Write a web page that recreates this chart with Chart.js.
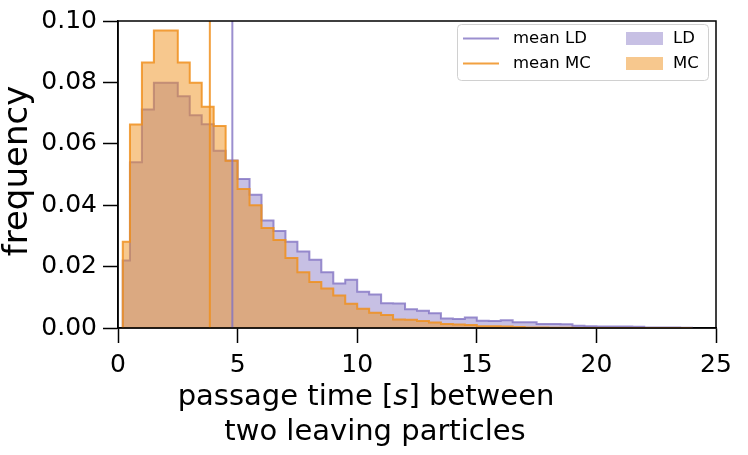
<!DOCTYPE html>
<html>
<head>
<meta charset="utf-8">
<script src="https://cdn.jsdelivr.net/npm/chart.js@4.4.1/dist/chart.umd.min.js"></script>
<style>
  html, body { margin: 0; padding: 0; background: #fff; }
  canvas { display: block; }
</style>
</head>
<body>
<canvas id="histChart" width="748" height="455"></canvas>
<script>
// bin edges of the histogram [s]
const binEdges = [0.2, 0.5, 1.0, 1.5, 2.0, 2.5, 3.0, 3.5, 4.0, 4.5, 5.0, 5.5, 6.0, 6.5, 7.0, 7.5,
  8.0, 8.5, 9.0, 9.5, 10.0, 10.5, 11.0, 11.5, 12.0, 12.5, 13.0, 13.5, 14.0, 14.5, 15.0, 15.5,
  16.0, 16.5, 17.0, 17.5, 18.0, 18.5, 19.0, 19.5, 20.0, 20.5, 21.0, 21.5, 22.0, 22.5, 23.0, 23.5, 24.0];

// frequency per bin
const ldFreq = [0.0220, 0.0540, 0.0712, 0.0799, 0.0799, 0.0755, 0.0693, 0.0664, 0.0577, 0.0546,
  0.0485, 0.0434, 0.0350, 0.0316, 0.0281, 0.0249, 0.0222, 0.0182, 0.0145, 0.0157,
  0.0118, 0.0109, 0.0081, 0.0080, 0.0061, 0.0056, 0.0048, 0.0031, 0.0029, 0.0034,
  0.0024, 0.0023, 0.0025, 0.0019, 0.0019, 0.0013, 0.0013, 0.0012, 0.0007, 0.0006,
  0.0005, 0.0005, 0.0005, 0.0004, 0.0002, 0.0002, 0.0002, 0.0001];
const mcFreq = [0.0281, 0.0663, 0.0865, 0.0969, 0.0969, 0.0865, 0.0799, 0.0721, 0.0658, 0.0545,
  0.0453, 0.0400, 0.0326, 0.0287, 0.0228, 0.0182, 0.0150, 0.0129, 0.0106, 0.0079,
  0.0063, 0.0050, 0.0042, 0.0028, 0.0027, 0.0023, 0.0018, 0.0013, 0.0011, 0.0010,
  0.0006, 0.0006, 0.0005, 0.0003, 0.0002, 0.0002, 0.0001, 0.0001, 0, 0,
  0, 0, 0, 0, 0, 0, 0, 0];

const meanLD = 4.78;
const meanMC = 3.84;

const xTicks = [0, 5, 10, 15, 20, 25];
const yTicks = [0.00, 0.02, 0.04, 0.06, 0.08, 0.10];

const ldLine = 'rgba(130, 115, 195, 0.8)';
const ldFill = 'rgba(130, 115, 195, 0.45)';
const mcLine = 'rgba(240, 145, 30, 0.85)';
const mcFill = 'rgba(240, 145, 30, 0.5)';
const FONT = "'DejaVu Sans', sans-serif";

// step outline: one point per left edge, closed down to zero at both ends
function stepPoints(values) {
  const pts = [{x: binEdges[0], y: 0}];
  values.forEach((v, i) => pts.push({x: binEdges[i], y: v}));
  const last = values.length;
  pts.push({x: binEdges[last], y: values[last - 1]});
  pts.push({x: binEdges[last], y: 0});
  return pts;
}

function vline(x) {
  return [{x: x, y: yTicks[0]}, {x: x, y: yTicks[yTicks.length - 1]}];
}

const framePlugin = {
  id: 'frame',
  afterDraw(chart) {
    const a = chart.chartArea;
    const ctx = chart.ctx;
    ctx.save();
    ctx.strokeStyle = '#000';
    ctx.lineWidth = 1.5;
    ctx.strokeRect(a.left, a.top, a.right - a.left, a.bottom - a.top);
    ctx.restore();
  }
};

const labelPlugin = {
  id: 'labels',
  afterDraw(chart) {
    const ctx = chart.ctx;
    ctx.save();
    ctx.fillStyle = '#000';
    ctx.textBaseline = 'alphabetic';

    // y title
    ctx.save();
    ctx.font = '34px ' + FONT;
    ctx.translate(27, 171);
    ctx.rotate(-Math.PI / 2);
    ctx.textAlign = 'center';
    ctx.fillText('frequency', 0, 0);
    ctx.restore();

    // x title, line 1 with italic s
    const parts = [['passage time [', 'normal'], ['s', 'italic'], ['] between', 'normal']];
    let total = 0;
    parts.forEach(p => {
      ctx.font = p[1] + ' 29px ' + FONT;
      total += ctx.measureText(p[0]).width;
    });
    let x = 366 - total / 2;
    ctx.textAlign = 'left';
    parts.forEach(p => {
      ctx.font = p[1] + ' 29px ' + FONT;
      ctx.fillText(p[0], x, 405);
      x += ctx.measureText(p[0]).width;
    });
    ctx.font = '29px ' + FONT;
    ctx.textAlign = 'center';
    ctx.fillText('two leaving particles', 375, 440);
    ctx.restore();
  }
};

const legendPlugin = {
  id: 'boxLegend',
  afterDraw(chart) {
    const ctx = chart.ctx;
    ctx.save();
    ctx.fillStyle = 'rgba(255,255,255,0.8)';
    ctx.strokeStyle = '#d0d0d0';
    ctx.lineWidth = 1;
    ctx.beginPath();
    ctx.roundRect(457.5, 24.5, 251, 56, 4);
    ctx.fill();
    ctx.stroke();

    ctx.lineWidth = 2;
    ctx.strokeStyle = ldLine;
    ctx.beginPath(); ctx.moveTo(463, 38.5); ctx.lineTo(499, 38.5); ctx.stroke();
    ctx.strokeStyle = mcLine;
    ctx.beginPath(); ctx.moveTo(463, 63.5); ctx.lineTo(499, 63.5); ctx.stroke();

    ctx.fillStyle = ldFill;
    ctx.fillRect(626, 32, 37, 13);
    ctx.fillStyle = mcFill;
    ctx.fillRect(626, 57, 37, 13);

    ctx.fillStyle = '#000';
    ctx.font = '16.5px ' + FONT;
    ctx.textAlign = 'left';
    ctx.textBaseline = 'middle';
    ctx.fillText('mean LD', 513, 38.5);
    ctx.fillText('mean MC', 513, 63.5);
    ctx.fillText('LD', 673, 38.5);
    ctx.fillText('MC', 673, 63.5);
    ctx.restore();
  }
};

const axisGrid = {
  display: true,
  drawOnChartArea: false,
  drawTicks: true,
  tickLength: 15,
  tickColor: '#000',
  tickWidth: 1.5
};

new Chart(document.getElementById('histChart'), {
  type: 'line',
  data: {
    datasets: [
      {label: 'LD', data: stepPoints(ldFreq), stepped: 'before', fill: 'origin',
       borderColor: ldLine, backgroundColor: ldFill, borderWidth: 2, pointRadius: 0, order: 4},
      {label: 'MC', data: stepPoints(mcFreq), stepped: 'before', fill: 'origin',
       borderColor: mcLine, backgroundColor: mcFill, borderWidth: 2, pointRadius: 0, order: 3},
      {label: 'mean LD', data: vline(meanLD), borderColor: ldLine, borderWidth: 2,
       pointRadius: 0, fill: false, order: 2},
      {label: 'mean MC', data: vline(meanMC), borderColor: mcLine, borderWidth: 2,
       pointRadius: 0, fill: false, order: 1}
    ]
  },
  options: {
    responsive: false,
    animation: false,
    layout: {padding: {left: 0, top: 16, right: 32, bottom: 0}},
    plugins: {legend: {display: false}, tooltip: {enabled: false}},
    scales: {
      x: {
        type: 'linear', min: 0, max: 25,
        afterBuildTicks: s => { s.ticks = xTicks.map(v => ({value: v})); },
        ticks: {color: '#000', font: {family: FONT, size: 25}, padding: 7, maxRotation: 0},
        grid: axisGrid,
        border: {color: '#000', width: 1.5},
        afterFit: s => { s.height = 127; }
      },
      y: {
        type: 'linear', min: 0, max: 0.1,
        afterBuildTicks: s => { s.ticks = yTicks.map(v => ({value: v})); },
        ticks: {color: '#000', font: {family: FONT, size: 25}, padding: 6,
                callback: v => v.toFixed(2)},
        grid: axisGrid,
        border: {color: '#000', width: 1.5},
        afterFit: s => { s.width = 118; }
      }
    }
  },
  plugins: [framePlugin, labelPlugin, legendPlugin]
});
</script>
</body>
</html>
